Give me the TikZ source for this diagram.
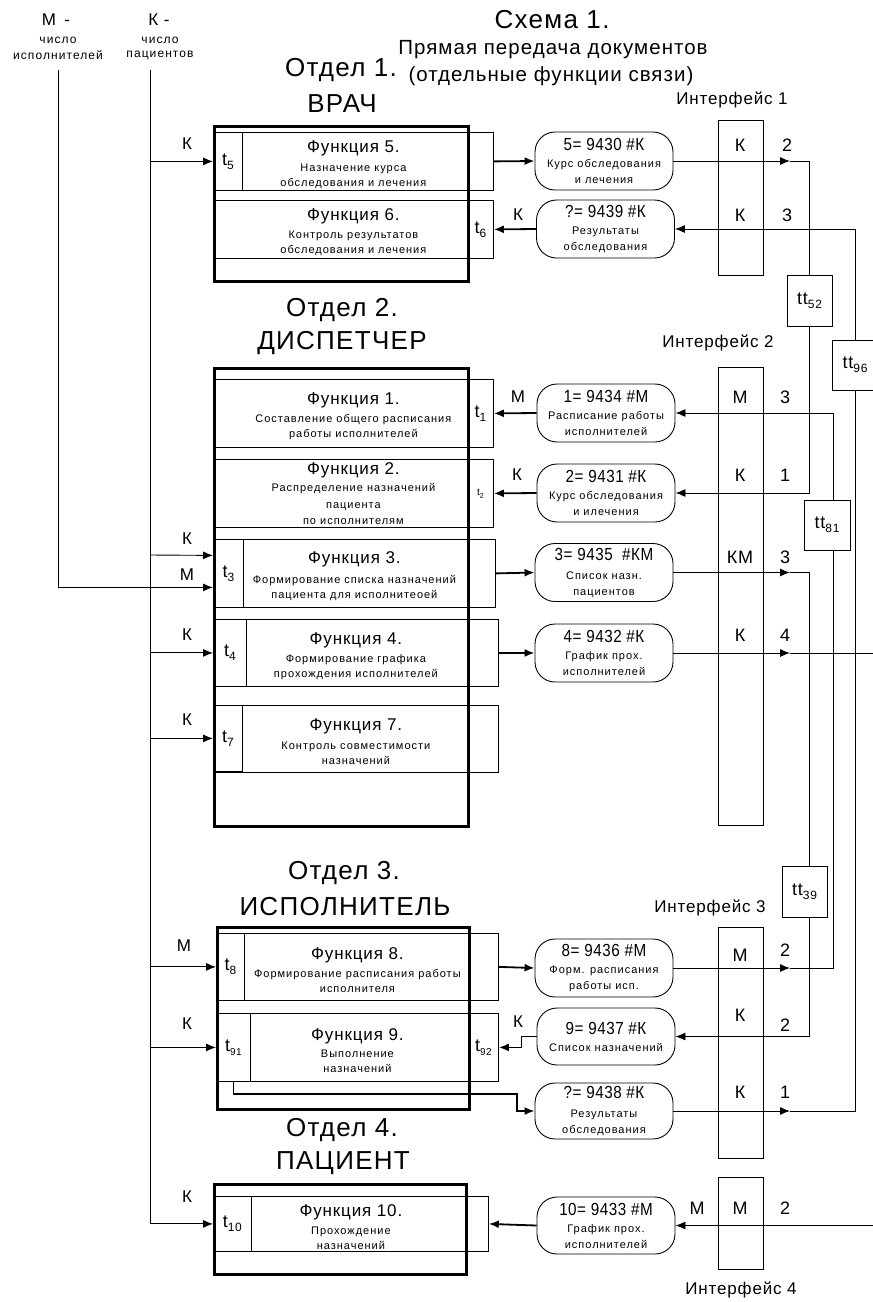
\documentclass[tikz,border=0pt]{standalone}
\usepackage{fontspec}
\setmainfont[LetterSpace=5]{Liberation Sans}
\newfontfamily\spc[LetterSpace=9]{Liberation Sans}
\newfontfamily\nar[LetterSpace=3,FakeStretch=0.87]{Liberation Sans}
\usetikzlibrary{arrows.meta}
\newcommand\fsz[2]{\fontsize{#1pt}{#2pt}\selectfont}
\newcommand\tsb[1]{t\raisebox{-4pt}{\fsz{12}{12}#1}}
\begin{document}
\begin{tikzpicture}[x=1pt,y=-1pt,
  fbox/.style={draw, line width=0.8pt, inner sep=0pt, anchor=north west, align=center, font=\spc\fsz{11}{15}},
  tbox/.style={draw, line width=0.8pt, inner sep=0pt, anchor=north west, font=\fsz{18}{18}},
  dept/.style={draw, line width=2.6pt, anchor=north west, inner sep=0pt},
  doc/.style={draw, line width=0.9pt, rounded corners=20pt, minimum width=138pt, minimum height=58pt, align=center, inner sep=0pt, font=\spc\fsz{11}{16}},
  iface/.style={draw, line width=0.9pt, anchor=north west, inner sep=0pt, minimum width=45pt},
  ttbox/.style={draw, line width=0.9pt, minimum width=45pt, minimum height=51pt, inner sep=0pt, font=\fsz{18}{18}},
  lab/.style={inner sep=0pt, font=\fsz{17}{17}},
  ilab/.style={inner sep=0pt, font=\fsz{18}{18}},
  slab/.style={inner sep=0pt, font=\spc\fsz{12}{12}},
  big/.style={inner sep=0pt, font=\fsz{26}{26}},
  arr/.style={line width=0.9pt, -{Latex[length=10pt,width=8pt]}},
  barr/.style={line width=1.8pt, -{Latex[length=10pt,width=8pt]}},
  ln/.style={line width=0.9pt}]
\useasboundingbox[fill=white] (0,0) rectangle (873,1302);
\newcommand\ft[1]{\rmfamily\fsz{17}{17}\rule{0pt}{17.5pt}#1}
\newcommand\fto[1]{\rmfamily\fsz{17}{17}#1}
\newcommand\dt[1]{\nar\fsz{17.5}{16}#1}

% ---------- titles ----------
\node[big] (sch) at (552,20) {Схема 1.};
\node[inner sep=0pt, font=\fsz{20.5}{20.5}] (sub1) at (553,50) {Прямая передача документов};
\node[inner sep=0pt, font=\fsz{20.5}{20.5}] (sub2) at (551,76) {(отдельные функции связи)};

\node[lab] (mlab1) at (56,20) {М \,-};
\node[slab] (mlab2) at (58,40) {число};
\node[slab] (mlab3) at (58,55) {исполнителей};
\node[lab] (klab1) at (159,20) {К -};
\node[slab] (klab2) at (160,40) {число};
\node[slab] (klab3) at (160,55) {пациентов};
\coordinate (mtop) at (58,70);
\coordinate (ktop) at (150,70);

\node[big] (o1a) at (341,70) {Отдел 1.};
\node[big] (o1b) at (342,104) {ВРАЧ};
\node[big] (o2a) at (342,310) {Отдел 2.};
\node[big] (o2b) at (342,343) {ДИСПЕТЧЕР};
\node[big] (o3a) at (344,873) {Отдел 3.};
\node[big] (o3b) at (345,907) {ИСПОЛНИТЕЛЬ};
\node[big] (o4a) at (342,1130) {Отдел 4.};
\node[big] (o4b) at (343,1163) {ПАЦИЕНТ};

% ---------- function boxes ----------
\node[fbox, minimum width=280pt, minimum height=58pt] (f5) at (213,132)
  {\ft{Функция 5.}\\[4pt]Назначение курса\\обследования и лечения};
\node[tbox, minimum width=29pt, minimum height=58pt] (t5) at (213,132) {\tsb{5}};
\node[fbox, minimum width=280pt, minimum height=58pt] (f6) at (213,200)
  {\ft{Функция 6.}\\[3pt]Контроль результатов\\обследования и лечения};
\node[tbox, minimum width=26pt, minimum height=58pt] (t6) at (467,200) {\tsb{6}};

\node[fbox, minimum width=280pt, minimum height=68pt] (f1) at (213,379)
  {\ft{Функция 1.}\\[3pt]Составление общего расписания\\работы исполнителей};
\node[tbox, minimum width=26pt, minimum height=68pt] (t1) at (467,379) {\tsb{1}};
\node[fbox, minimum width=280pt, minimum height=68pt, font=\spc\fsz{11}{16.5}] (f2) at (213,459)
  {\fto{Функция 2.}\\[1pt]Распределение назначений\\пациента\\по исполнителям};
\node[tbox, minimum width=26pt, minimum height=68pt, font=\fsz{10}{10}] (t2) at (467,459) {t\raisebox{-3pt}{\fsz{7}{7}2}};
\node[fbox, minimum width=282pt, minimum height=68pt] (f3) at (213,539)
  {\ft{Функция 3.}\\[5pt]Формирование списка назначений\\пациента для исполнитеоей};
\node[tbox, minimum width=30pt, minimum height=68pt] (t3) at (213,539) {\tsb{3}};
\node[fbox, minimum width=285pt, minimum height=67pt] (f4) at (213,619)
  {\ft{Функция 4.}\\[3pt]Формирование графика\\прохождения исполнителей};
\node[tbox, minimum width=33pt, minimum height=67pt] (t4) at (213,619) {\tsb{4}};
\node[fbox, minimum width=285pt, minimum height=67pt] (f7) at (213,705)
  {\ft{Функция 7.}\\[4pt]Контроль совместимости\\назначений};
\node[tbox, minimum width=29pt, minimum height=66pt] (t7) at (213,705) {\tsb{7}};

\node[fbox, minimum width=282pt, minimum height=67pt] (f8) at (216,933)
  {\ft{Функция 8.}\\[3pt]Формирование расписания работы\\исполнителя};
\node[tbox, minimum width=28pt, minimum height=67pt] (t8) at (216,933) {\tsb{8}};
\node[fbox, minimum width=282pt, minimum height=68pt] (f9) at (216,1013)
  {\ft{Функция 9.}\\[2pt]Выполнение\\назначений};
\node[tbox, minimum width=34pt, minimum height=68pt] (t91) at (216,1013) {t\raisebox{-4pt}{\fsz{10}{10}91}};
\node[tbox, minimum width=30pt, minimum height=68pt] (t92) at (468,1013) {t\raisebox{-4pt}{\fsz{10}{10}92}};

\node[fbox, minimum width=275pt, minimum height=55pt] (f10) at (213,1196)
  {\ft{Функция 10.}\\[3pt]Прохождение\\назначений};
\node[tbox, minimum width=38pt, minimum height=55pt] (t10) at (213,1196) {\tsb{10}};

% ---------- department frames ----------
\node[dept, minimum width=254pt, minimum height=155pt] (d1) at (213,125) {};
\node[dept, minimum width=254pt, minimum height=458pt] (d2) at (213,367) {};
\node[dept, minimum width=252pt, minimum height=182pt] (d3) at (216,926) {};
\node[dept, minimum width=252pt, minimum height=90pt] (d4) at (213,1183) {};

% ---------- documents ----------
\node[doc] (doc5) at (604,161) {\dt{5= 9430 \#К}\\[1pt]Курс обследования\\и лечения};
\node[doc] (doc6) at (605.5,229) {\dt{?= 9439 \#К}\\[1pt]Результаты\\обследования};
\node[doc] (doc1) at (606,413) {\dt{1= 9434 \#М}\\[1pt]Расписание работы\\исполнителей};
\node[doc] (doc2) at (606,493) {\dt{2= 9431 \#К}\\[1pt]Курс обследования\\и илечения};
\node[doc] (doc3) at (604,572.5) {\dt{3= 9435 \ \#КМ}\\[3pt]Список назн.\\пациентов};
\node[doc] (doc4) at (604,653) {\dt{4= 9432 \#К}\\[1pt]График прох.\\исполнителей};
\node[doc] (doc8) at (604,968) {\dt{8= 9436 \#М}\\[1pt]Форм. расписания\\работы исп.};
\node[doc, minimum height=57pt] (doc9) at (606,1036.5) {\dt{9= 9437 \#К}\\[1pt]Список назначений};
\node[doc, minimum height=56pt] (doc38) at (604,1111) {\dt{?= 9438 \#К}\\[3pt]Результаты\\обследования};
\node[doc, minimum height=57pt] (doc10) at (606,1225.5) {\dt{10= 9433 \#М}\\[1pt]График прох.\\исполнителей};

% ---------- interfaces ----------
\node[iface, minimum height=155pt] (i1) at (718,120) {};
\node[iface, minimum height=458pt] (i2) at (718,367) {};
\node[iface, minimum height=231pt] (i3) at (718,927) {};
\node[iface, minimum height=92pt] (i4) at (718,1177) {};
\node[lab] (i1t) at (732,100) {Интерфейс 1};
\node[lab] (i2t) at (718,343) {Интерфейс 2};
\node[lab] (i3t) at (710,908) {Интерфейс 3};
\node[lab] (i4t) at (741,1290) {Интерфейс 4};

\node[ilab] (a1) at (740,145) {К};  \node[ilab] (a2) at (787,145) {2};
\node[ilab] (a3) at (740,215) {К};  \node[ilab] (a4) at (787,215) {3};
\node[ilab] (b1) at (740,397) {М};  \node[ilab] (b2) at (785,397) {3};
\node[ilab] (b3) at (740,475) {К};  \node[ilab] (b4) at (785,475) {1};
\node[ilab] (b5) at (740,557) {КМ}; \node[ilab] (b6) at (785,557) {3};
\node[ilab] (b7) at (740,635) {К};  \node[ilab] (b8) at (785,635) {4};
\node[ilab] (c1) at (740,955) {М};  \node[ilab] (c2) at (785,950) {2};
\node[ilab] (c3) at (740,1015) {К}; \node[ilab] (c4) at (785,1025) {2};
\node[ilab] (c5) at (740,1092) {К}; \node[ilab] (c6) at (785,1092) {1};
\node[ilab] (e1) at (697,1208) {М}; \node[ilab] (e2) at (740,1208) {М}; \node[ilab] (e3) at (785,1208) {2};

% ---------- transfer boxes ----------
\node[ttbox] (tt52) at (809.5,300.5) {t\tsb{52}};
\node[ttbox, minimum width=46pt, minimum height=50pt] (tt96) at (855,365) {t\tsb{96}};
\node[ttbox, minimum width=46pt, minimum height=50pt] (tt81) at (827,525) {t\tsb{81}};
\node[ttbox] (tt39) at (804.5,891.5) {t\tsb{39}};

% ---------- inputs ----------
\draw[ln] (mtop) |- ([xshift=-50pt,yshift=-14pt]t3.west);
\draw[arr] ([xshift=-50pt,yshift=-14pt]t3.west) -- ([yshift=-14pt]t3.west);
\draw[arr] (ktop) |- (t10.west);
\draw[arr] (ktop |- t5.west) -- (t5.west);
\draw[arr] (ktop |- 0,555) -- ([yshift=18pt]t3.west);
\draw[arr] (ktop |- t4.west) -- (t4.west);
\draw[arr] (ktop |- t7.west) -- (t7.west);
\draw[arr] (ktop |- t8.west) -- (t8.west);
\draw[arr] (ktop |- t91.west) -- (t91.west);
\node[lab] (k5) at (187,144) {К};
\node[lab] (k3) at (187,539) {К};
\node[lab] (m3) at (187,575) {М};
\node[lab] (k4) at (187,635) {К};
\node[lab] (k7) at (187,720) {К};
\node[lab] (m8) at (184,946) {М};
\node[lab] (k9) at (187,1024) {К};
\node[lab] (k10) at (187,1197) {К};

% ---------- function <-> document ----------
\draw[barr] (f5.east) -- (doc5.west);
\draw[barr] (doc6.west) -- (t6.east);
\draw[barr] (doc1.west) -- (t1.east);
\draw[barr] (doc2.west) -- (t2.east);
\draw[barr] (f3.east) -- (doc3.west);
\draw[barr] (f4.east) -- (doc4.west);
\draw[barr] (f8.east) -- (doc8.west);
\draw[barr] (doc9.west) -- ++(-15,0) |- (t92.east);
\coordinate (bend9) at (517,1094);
\draw[barr] (t91.south) |- (bend9) |- (doc38.west);
\draw[barr] (doc10.west) -- (f10.east);
\node[lab] (lk6) at (518,215) {К};
\node[lab] (lm1) at (518,397) {М};
\node[lab] (lk2) at (517,475) {К};
\node[lab] (lk9) at (518,1022) {К};

% ---------- long links ----------
\coordinate (m5) at (790,161);
\coordinate (m3c) at (790,572.5);
\coordinate (m4) at (790,653);
\coordinate (m8) at (790,968);
\coordinate (m38) at (790,1111);
\coordinate (edge4) at (873,653);
\coordinate (edge10) at (873,1225.5);

\draw[arr] (doc5.east) -- (m5);
\draw[ln] (m5) -| (tt52.north);
\draw[arr] (tt52.south) |- (doc2.east);

\draw[arr] (tt96.north) |- (doc6.east);
\draw[arr] (doc38.east) -- (m38);
\draw[ln] (m38) -| (tt96.south);

\draw[arr] ([xshift=6pt]tt81.north) |- (doc1.east);
\draw[arr] (doc8.east) -- (m8);
\draw[ln] (m8) -| ([xshift=6pt]tt81.south);

\draw[arr] (doc3.east) -- (m3c);
\draw[ln] (m3c) -| ([xshift=4.5pt]tt39.north);
\draw[arr] ([xshift=4.5pt]tt39.south) |- (doc9.east);

\draw[arr] (doc4.east) -- (m4);
\draw[ln] (m4) -- (edge4);
\draw[arr] (edge10) -- (doc10.east);
\end{tikzpicture}
\end{document}
